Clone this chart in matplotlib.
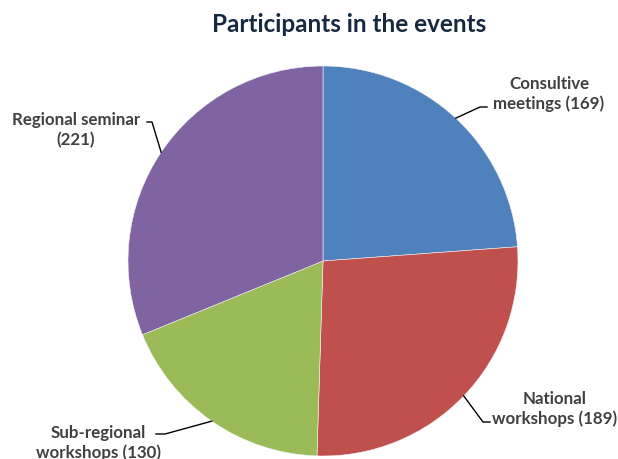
import numpy as np
import matplotlib.pyplot as plt

labels = ['Consultive\nmeetings (169)', 'National\nworkshops (189)',
          'Sub-regional\nworkshops (130)', 'Regional seminar\n(221)']
valores = [169, 189, 130, 221]
cores = ['#4F81BD', '#C0504D', '#9BBB59', '#8064A2']

# posicao dos textos e do cotovelo da linha guia (em pixels, y para cima)
pos_texto = [(549, 366), (555, 51), (98, 17), (76, 330)]
cotovelo = [((480, 352), (487, 352)), ((483, 37), (490, 37)),
            ((165, 25), (156, 25)), ((152, 337), (147, 337))]

fig = plt.figure(figsize=(6.18, 4.6), dpi=100)
ax = fig.add_axes([0, 0, 1, 1])

centro = (323, 198)
raio = 195
ax.pie(valores, colors=cores, startangle=90, counterclock=False,
       center=centro, radius=raio, frame=True,
       wedgeprops={'linewidth': 0.4, 'edgecolor': '#f4f4f4'})
ax.set_xlim(0, 618)
ax.set_ylim(0, 460)
ax.set_aspect('equal')
ax.axis('off')

# angulo do meio de cada fatia, para a linha guia
total = sum(valores)
acum = np.cumsum([0] + valores[:-1])
for i in range(len(valores)):
    meio = 90 - (acum[i] + valores[i] / 2) / total * 360
    px = centro[0] + raio * np.cos(np.radians(meio))
    py = centro[1] + raio * np.sin(np.radians(meio))
    (c1x, c1y), (c2x, c2y) = cotovelo[i]
    ax.plot([px, c1x, c2x], [py, c1y, c2y], color='black', lw=1)
    ax.text(pos_texto[i][0], pos_texto[i][1], labels[i], ha='center', va='center',
            multialignment='center', fontsize=12.2, fontweight='bold',
            family='Lato', color='#404040', linespacing=1.3)

fig.text(0.565, 0.947, 'Participants in the events', ha='center', va='center',
         fontsize=17.5, fontweight='bold', family='Lato', color='#17293F')

plt.savefig('out.png', dpi=100)
